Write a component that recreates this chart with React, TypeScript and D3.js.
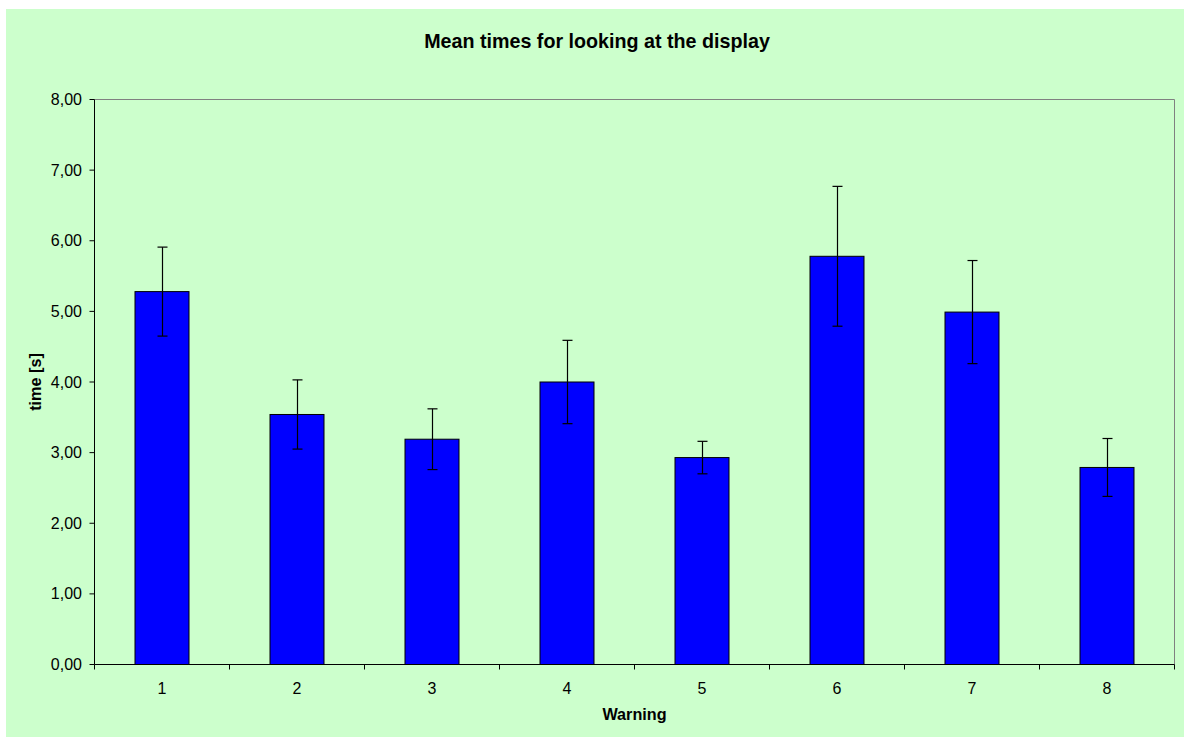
import React from "react";
import * as d3 from "d3";

const categories: string[] = ["1", "2", "3", "4", "5", "6", "7", "8"];
const meanTimes: number[] = [5.28, 3.54, 3.19, 4.0, 2.93, 5.78, 4.99, 2.79];
const errors: number[] = [0.63, 0.49, 0.43, 0.59, 0.23, 0.99, 0.73, 0.41];
const yTicks: number[] = [0, 1, 2, 3, 4, 5, 6, 7, 8];

const W = 1184;
const H = 737;
const left = 94.5;
const right = 1174.5;
const top = 99.5;
const bottom = 664.5;
const FONT = "'Liberation Sans', Arial, sans-serif";

export default function App() {
  const x = d3.scaleBand<string>().domain(categories).range([left, right]).padding(0);
  const y = d3.scaleLinear().domain([0, 8]).range([bottom, top]);
  const bw = x.bandwidth() * 0.4;
  const fmt = (v: number) => v.toFixed(2).replace(".", ",");

  return (
    <div style={{ position: "absolute", left: 0, top: 0 }}>
      <svg width={W} height={H} style={{ display: "block" }}>
        <rect x={0} y={0} width={W} height={H} fill="#ffffff" />
        <rect x={6} y={9} width={W - 6} height={H - 9} fill="#CCFFCC" />
        <text x={597} y={48} textAnchor="middle" fontFamily={FONT} fontWeight="bold" fontSize={19.7} fill="#000">
          Mean times for looking at the display
        </text>
        {/* plot border top/right */}
        <line x1={left} y1={top} x2={right} y2={top} stroke="#808080" strokeWidth={1} />
        <line x1={right} y1={top} x2={right} y2={bottom} stroke="#808080" strokeWidth={1} />
        {/* bars */}
        {categories.map((c, i) => {
          const cx = (x(c) as number) + x.bandwidth() / 2;
          return (
            <rect
              key={"b" + c}
              x={cx - bw / 2}
              y={y(meanTimes[i])}
              width={bw}
              height={bottom - y(meanTimes[i])}
              fill="#0000FF"
              stroke="#000"
              strokeWidth={1}
            />
          );
        })}
        {/* error bars */}
        {categories.map((c, i) => {
          const cx = Math.round((x(c) as number) + x.bandwidth() / 2) + 0.5;
          const y1 = y(meanTimes[i] + errors[i]);
          const y2 = y(meanTimes[i] - errors[i]);
          return (
            <g key={"e" + c} stroke="#000" strokeWidth={1.2}>
              <line x1={cx} x2={cx} y1={y1} y2={y2} />
              <line x1={cx - 5} x2={cx + 5} y1={y1} y2={y1} />
              <line x1={cx - 5} x2={cx + 5} y1={y2} y2={y2} />
            </g>
          );
        })}
        {/* axes */}
        <line x1={left} y1={top} x2={left} y2={bottom} stroke="#000" strokeWidth={1} />
        <line x1={left} y1={bottom} x2={right} y2={bottom} stroke="#000" strokeWidth={1} />
        {yTicks.map((t) => (
          <g key={"y" + t}>
            <line x1={left - 5} x2={left} y1={y(t)} y2={y(t)} stroke="#000" />
            <text
              x={82}
              y={y(t)}
              dy="0.35em"
              textAnchor="end"
              fontFamily={FONT}
              fontSize={16}
              fill="#000"
            >
              {fmt(t)}
            </text>
          </g>
        ))}
        {[...categories.map((c) => x(c) as number), right].map((px, i) => (
          <line key={"xt" + i} x1={px} x2={px} y1={bottom} y2={bottom + 5} stroke="#000" />
        ))}
        {categories.map((c) => (
          <text
            key={"xl" + c}
            x={(x(c) as number) + x.bandwidth() / 2}
            y={693.5}
            textAnchor="middle"
            fontFamily={FONT}
            fontSize={16}
            fill="#000"
          >
            {c}
          </text>
        ))}
        <text x={634.5} y={720} textAnchor="middle" fontFamily={FONT} fontWeight="bold" fontSize={16.2} fill="#000">
          Warning
        </text>
        <text
          transform={`translate(40.5, ${(top + bottom) / 2}) rotate(-90)`}
          textAnchor="middle"
          fontFamily={FONT}
          fontWeight="bold"
          fontSize={16.2}
          fill="#000"
        >
          time [s]
        </text>
      </svg>
    </div>
  );
}
